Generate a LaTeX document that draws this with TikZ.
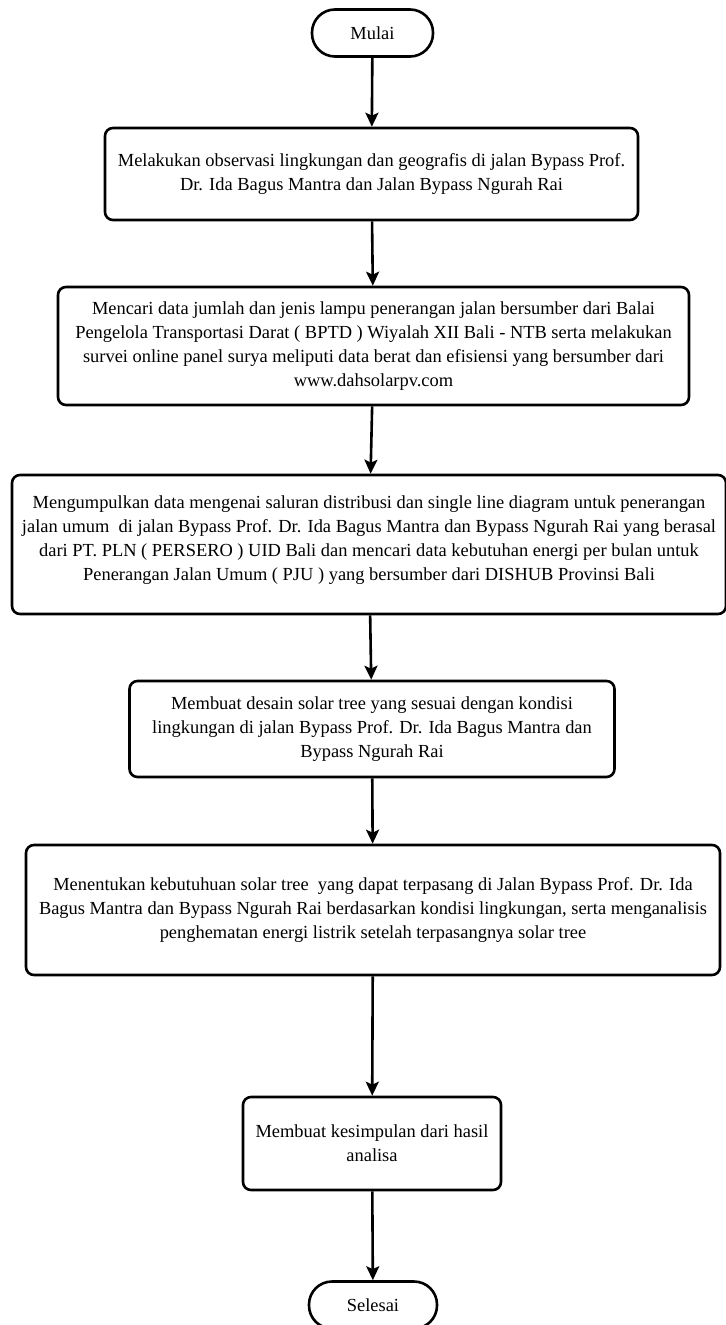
\documentclass[tikz,border=0pt]{standalone}
\usepackage{fontspec}
\setmainfont{Liberation Serif}
\usetikzlibrary{arrows.meta}
\begin{document}
\begin{tikzpicture}[x=1bp,y=1bp,
  txt/.style={font=\fontsize{18.5}{24}\selectfont},
  box/.style={txt,draw,line width=2.6bp,rounded corners=8bp,inner sep=0pt,align=center},
  term/.style={txt,draw,line width=2.6bp,rounded corners=23bp,inner sep=0pt,align=center,minimum height=47bp},
  arr/.style={line width=2.6bp,-{Stealth[length=14bp,width=13bp,inset=3bp]}}]
\useasboundingbox (0,0) rectangle (725,-1325);
\node[term,minimum width=121bp] (start) at (372.5,-33) {Mulai};
\node[box,minimum width=533bp,minimum height=92bp] (b1) at (371.5,-174)
 {Melakukan observasi lingkungan dan geografis di jalan Bypass Prof.\\ Dr. Ida Bagus Mantra dan Jalan Bypass Ngurah Rai};
\node[box,minimum width=631bp,minimum height=118bp] (b2) at (373.5,-346)
 {Mencari data jumlah dan jenis lampu penerangan jalan bersumber dari Balai\\ Pengelola Transportasi Darat ( BPTD ) Wiyalah XII Bali - NTB serta melakukan\\ survei online panel surya meliputi data berat dan efisiensi yang bersumber dari\\ www.dahsolarpv.com};
\node[box,minimum width=714bp,minimum height=139bp] (b3) at (369,-544.5) {};
\node[txt,align=center,inner sep=0pt] (t3) at (369,-540)
 {Mengumpulkan data mengenai saluran distribusi dan single line diagram untuk penerangan\\ jalan umum \ di jalan Bypass Prof. Dr. Ida Bagus Mantra dan Bypass Ngurah Rai yang berasal\\ dari PT. PLN ( PERSERO ) UID Bali dan mencari data kebutuhan energi per bulan untuk\\ Penerangan Jalan Umum ( PJU ) yang bersumber dari DISHUB Provinsi Bali};
\node[box,minimum width=485bp,minimum height=96bp] (b4) at (372,-729)
 {Membuat desain solar tree yang sesuai dengan kondisi\\ lingkungan di jalan Bypass Prof. Dr. Ida Bagus Mantra dan\\ Bypass Ngurah Rai};
\node[box,minimum width=694bp,minimum height=130bp] (b5) at (373,-910)
 {Menentukan kebutuhuan solar tree \ yang dapat terpasang di Jalan Bypass Prof. Dr. Ida\\ Bagus Mantra dan Bypass Ngurah Rai berdasarkan kondisi lingkungan, serta menganalisis\\ penghematan energi listrik setelah terpasangnya solar tree};
\node[box,minimum width=258bp,minimum height=93bp] (b6) at (372,-1143.5)
 {Membuat kesimpulan dari hasil\\ analisa};
\node[term,minimum width=128bp] (end) at (373,-1305) {Selesai};
\draw[arr] (start) -- (b1);
\draw[arr] (b1) -- (b2);
\draw[arr] (b2) -- (b3);
\draw[arr] (b3) -- (b4);
\draw[arr] (b4) -- (b5);
\draw[arr] (b5) -- (b6);
\draw[arr] (b6) -- (end);
\end{tikzpicture}
\end{document}
